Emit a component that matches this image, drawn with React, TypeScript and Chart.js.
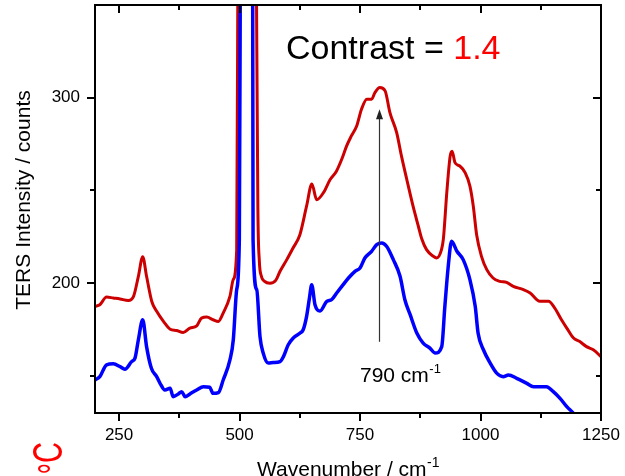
import React, { useEffect, useRef } from "react";
import { Chart, registerables } from "chart.js";

Chart.register(...registerables);

// ---- axis ticks ----
const xMajorTicks = [250, 500, 750, 1000, 1250];
const xMinorTicks = [375, 625, 875, 1125];
const yMajorTicks = [200, 300];
const yMinorTicks = [150, 250];
const xRange = [200, 1250];
const yRange = [130, 350];

// ---- red spectrum (upper) ----
const redX = [200, 210, 224, 238, 252, 269, 280, 290, 299, 307, 318, 328, 342, 356, 369, 383, 397, 411, 421, 432, 445, 456, 466, 480, 487, 494, 497, 515, 534, 538, 541, 545, 552, 563, 575, 584, 598, 611, 625, 639, 650, 660, 674, 688, 701, 712, 722, 732, 743, 753, 764, 774, 781, 791, 802, 812, 826, 836, 847, 860, 871, 878, 888, 902, 909, 919, 923, 930, 937, 941, 947, 957, 968, 978, 985, 992, 1002, 1013, 1026, 1040, 1054, 1068, 1089, 1103, 1123, 1141, 1154, 1168, 1179, 1193, 1206, 1220, 1234, 1250];
const redY = [187.5, 188.4, 192.5, 192, 191.5, 190.7, 192.9, 203.7, 214.2, 203.7, 190, 184.8, 179.4, 175.2, 174.5, 173.4, 175.8, 177, 181.2, 181.7, 180.3, 179.4, 183.9, 192.9, 202, 218, 400, 800, 400, 240, 212, 204, 201, 200, 201.5, 206.4, 212.7, 219, 226, 241.5, 253.5, 245, 248.8, 255.9, 260.4, 266.8, 273.9, 279.4, 284.8, 293.8, 299.2, 299.2, 302.8, 305.5, 303.7, 292, 281.2, 268.5, 255.9, 241.5, 230.7, 224, 218.1, 214.5, 213.6, 218.1, 224, 248.8, 268.5, 271.2, 265, 263.2, 259.6, 252.3, 241.5, 226, 214.5, 207.3, 202.8, 201, 200.4, 198.3, 196.5, 194.7, 190.2, 190.2, 186.6, 180.3, 175.8, 170.4, 168.5, 165.8, 164.1, 160.4];

// ---- blue spectrum (lower) ----
const blueX = [200, 210, 224, 238, 252, 262, 276, 283, 290, 299, 307, 317, 328, 335, 345, 356, 362, 373, 380, 387, 397, 411, 425, 438, 445, 456, 466, 480, 487, 494, 499.5, 502, 515, 527, 528, 535.6, 542.4, 549, 559.6, 570, 584, 591, 601, 611.5, 625, 632, 639, 645, 649.7, 656.5, 667, 681, 691, 701.5, 715, 726, 739.5, 750, 760, 774, 784.6, 795, 805, 819, 833, 843, 854, 868, 881, 895, 906, 919.5, 926, 933, 940, 951, 964, 978, 989, 995, 1006, 1020, 1033.5, 1047, 1058, 1075, 1096, 1110, 1137, 1151, 1165, 1179, 1193, 1205];
const blueY = [147.8, 149.6, 156, 156.5, 155, 153.6, 157.7, 159.6, 169.5, 180.3, 165.8, 154.1, 149.6, 146, 142.4, 143.4, 138.8, 140.3, 141.5, 138.8, 140.3, 142.4, 144.2, 143.9, 140.6, 141, 147.8, 158.6, 169.5, 196.5, 223.5, 400, 900, 400, 223.5, 196.5, 171.2, 162.4, 156.9, 157.2, 157.7, 160.4, 166.8, 170.4, 173, 174.9, 182, 192, 199.2, 188.4, 185, 190.2, 191.1, 194.7, 199.2, 202.8, 206.4, 208.2, 213.6, 217.2, 220.8, 221.7, 219.9, 212.7, 203.7, 191.1, 183, 173, 167.7, 165, 162.3, 165.8, 187.5, 209.1, 222.6, 217.2, 212.7, 201.9, 187.5, 173, 164.1, 156.9, 151.5, 149.6, 150.5, 148.7, 146, 144.2, 144.2, 141.5, 137.9, 133.4, 129.8, 126];

// ---- annotation ----
const arrowWavenumber = 790;
const arrowFromCounts = 168.4;
const arrowToCounts = 293.8;
const contrastLabel = "Contrast = ";
const contrastValue = "1.4";
const peakLabel = "790 cm";
const xTitle = "Wavenumber / cm";
const yTitle = "TERS Intensity / counts";
const superscript = "-1";
const cornerText = "°C";

const FONT = '"Liberation Sans", Arial, Helvetica, sans-serif';

function zip(xs: number[], ys: number[]) {
  return xs.map((x, i) => ({ x, y: ys[i] }));
}

const decorPlugin = {
  id: "decor",
  afterDatasetsDraw(chart: any) {
    const { ctx, chartArea: a, scales } = chart;
    const xs = scales.x;
    const ys = scales.y;
    ctx.save();
    // frame
    ctx.strokeStyle = "#000";
    ctx.lineWidth = 2;
    ctx.strokeRect(a.left, a.top, a.right - a.left, a.bottom - a.top);
    // ticks
    ctx.beginPath();
    const xt = (v: number, len: number) => {
      const px = Math.round(xs.getPixelForValue(v));
      ctx.moveTo(px, a.bottom);
      ctx.lineTo(px, a.bottom + len);
      ctx.moveTo(px, a.top);
      ctx.lineTo(px, a.top + len);
    };
    const yt = (v: number, len: number) => {
      const py = Math.round(ys.getPixelForValue(v));
      ctx.moveTo(a.left - len, py);
      ctx.lineTo(a.left, py);
      ctx.moveTo(a.right, py);
      ctx.lineTo(a.right - len, py);
    };
    xMajorTicks.forEach((v) => xt(v, 8));
    xMinorTicks.forEach((v) => xt(v, 5));
    yMajorTicks.forEach((v) => yt(v, 8));
    yMinorTicks.forEach((v) => yt(v, 5));
    ctx.stroke();

    // tick labels
    ctx.fillStyle = "#000";
    ctx.font = `17px ${FONT}`;
    ctx.textBaseline = "middle";
    ctx.textAlign = "center";
    xMajorTicks.forEach((v) => {
      ctx.fillText(String(v), xs.getPixelForValue(v), a.bottom + 22);
    });
    ctx.textAlign = "right";
    yMajorTicks.forEach((v) => {
      ctx.fillText(String(v), a.left - 15, ys.getPixelForValue(v));
    });

    // arrow
    const ax = Math.round(xs.getPixelForValue(arrowWavenumber)) + 0.5;
    const ay0 = ys.getPixelForValue(arrowFromCounts);
    const ay1 = ys.getPixelForValue(arrowToCounts);
    ctx.strokeStyle = "#333";
    ctx.fillStyle = "#222";
    ctx.lineWidth = 1.2;
    ctx.beginPath();
    ctx.moveTo(ax, ay0);
    ctx.lineTo(ax, ay1 + 8);
    ctx.stroke();
    ctx.beginPath();
    ctx.moveTo(ax, ay1);
    ctx.lineTo(ax - 3.5, ay1 + 10);
    ctx.lineTo(ax + 3.5, ay1 + 10);
    ctx.closePath();
    ctx.fill();
    ctx.restore();
  },
  afterDraw(chart: any) {
    const { ctx, chartArea: a } = chart;
    ctx.save();
    ctx.textBaseline = "alphabetic";

    // Contrast = 1.4
    ctx.font = `34px ${FONT}`;
    ctx.textAlign = "left";
    ctx.fillStyle = "#000";
    ctx.fillText(contrastLabel, 286, 59);
    const cw = ctx.measureText(contrastLabel).width;
    ctx.fillStyle = "#FF0000";
    ctx.fillText(contrastValue, 286 + cw, 59);

    // 790 cm-1
    ctx.fillStyle = "#000";
    ctx.font = `21px ${FONT}`;
    ctx.fillText(peakLabel, 360, 382);
    const pw = ctx.measureText(peakLabel).width;
    ctx.font = `13px ${FONT}`;
    ctx.fillText(superscript, 360 + pw + 0.5, 373);

    // x title
    ctx.font = `21px ${FONT}`;
    const tw = ctx.measureText(xTitle).width;
    ctx.font = `14px ${FONT}`;
    const sw = ctx.measureText(superscript).width;
    const cx = (a.left + a.right) / 2;
    const start = cx - (tw + sw) / 2;
    ctx.font = `21px ${FONT}`;
    ctx.fillText(xTitle, start, 476);
    ctx.font = `14px ${FONT}`;
    ctx.fillText(superscript, start + tw + 0.5, 467);

    // y title
    ctx.save();
    ctx.translate(30, 200);
    ctx.rotate(-Math.PI / 2);
    ctx.font = `21px ${FONT}`;
    ctx.textAlign = "center";
    ctx.fillText(yTitle, 0, 0);
    ctx.restore();

    // cut-off red corner text
    ctx.save();
    ctx.translate(62, 463);
    ctx.rotate(-Math.PI / 2);
    ctx.scale(1, 1.44);
    ctx.font = `29px ${FONT}`;
    ctx.fillStyle = "#FF0000";
    ctx.textAlign = "left";
    ctx.fillText(cornerText.slice(1), 0, 0);
    ctx.textAlign = "right";
    ctx.fillText(cornerText.slice(0, 1), 0, 4);
    ctx.restore();

    ctx.restore();
  },
};

export default function App() {
  const ref = useRef<HTMLCanvasElement | null>(null);
  useEffect(() => {
    if (!ref.current) return;
    const chart = new Chart(ref.current, {
      type: "line",
      data: {
        datasets: [
          {
            label: "blue",
            data: zip(blueX, blueY),
            borderColor: "#0000FF",
            borderWidth: 3.5,
            pointRadius: 0,
            fill: false,
            cubicInterpolationMode: "monotone",
            clip: 0,
            order: 0,
          } as any,
          {
            label: "red",
            data: zip(redX, redY),
            borderColor: "#CC0000",
            borderWidth: 3,
            pointRadius: 0,
            fill: false,
            cubicInterpolationMode: "monotone",
            clip: 0,
            order: 1,
          } as any,
        ],
      },
      options: {
        responsive: false,
        animation: false,
        devicePixelRatio: 1,
        layout: { padding: { top: 5, right: 24, left: 0, bottom: 0 } },
        plugins: {
          legend: { display: false },
          tooltip: { enabled: false },
          title: { display: false },
        },
        scales: {
          x: {
            type: "linear",
            position: "bottom",
            min: xRange[0],
            max: xRange[1],
            afterFit(s: any) {
              s.height = 63;
            },
            afterBuildTicks(s: any) {
              s.ticks = xMajorTicks.map((v) => ({ value: v }));
            },
            grid: { display: false, drawTicks: false },
            border: { display: false },
            ticks: { display: false },
          },
          y: {
            type: "linear",
            position: "left",
            min: yRange[0],
            max: yRange[1],
            afterFit(s: any) {
              s.width = 95;
            },
            afterBuildTicks(s: any) {
              s.ticks = yMajorTicks.map((v) => ({ value: v }));
            },
            grid: { display: false, drawTicks: false },
            border: { display: false },
            ticks: { display: false },
          },
        },
      } as any,
      plugins: [decorPlugin],
    });
    return () => chart.destroy();
  }, []);
  return (
    <div style={{ position: "absolute", left: 0, top: 0, width: 625, height: 476, background: "#fff" }}>
      <canvas ref={ref} width={625} height={476} style={{ display: "block" }} />
    </div>
  );
}
